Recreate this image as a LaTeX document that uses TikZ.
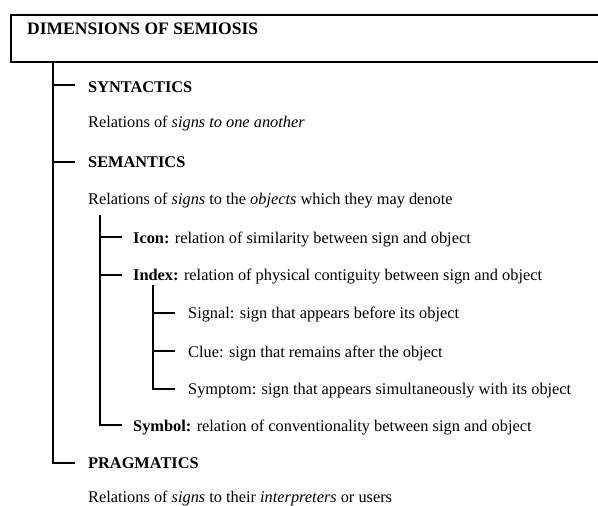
\documentclass[tikz,border=0pt]{standalone}
\usepackage{fontspec}
\setmainfont{Liberation Serif}
\begin{document}
\begin{tikzpicture}[x=1bp,y=-1bp,
  treeline/.style={line width=1.5bp},
  boxline/.style={line width=1.7bp},
  txt/.style={anchor=base west,inner sep=0pt,font=\fontsize{16.4}{19}\selectfont},
  head/.style={txt,font=\fontsize{16.4}{19}\selectfont\bfseries},
  titletxt/.style={anchor=base west,inner sep=0pt,font=\fontsize{17.6}{20}\selectfont\bfseries}]
\useasboundingbox (0,0) rectangle (598,506);
% title box
\node[titletxt] (title) at (27,35) {DIMENSIONS OF SEMIOSIS};
\draw[boxline] (598,15) -| (11,62) -- (598,62);
% level 1
\node[head] (synt) at (88,93) {SYNTACTICS};
\node[txt] (syntd) at (88,128) {Relations of \textit{signs to one another}};
\node[head] (sem) at (88,168) {SEMANTICS};
\node[txt] (semd) at (88,205) {Relations of \textit{signs} to the \textit{objects} which they may denote};
\node[head] (prag) at (88,468) {PRAGMATICS};
\node[txt] (pragd) at (88,502) {Relations of \textit{signs} to their \textit{interpreters} or users};
% level 2
\node[txt] (icon) at (133,243) {\textbf{Icon:} relation of similarity between sign and object};
\node[txt] (index) at (133,280) {\textbf{Index:} relation of physical contiguity between sign and object};
\node[txt] (symbol) at (133,431) {\textbf{Symbol:} relation of conventionality between sign and object};
% level 3
\node[txt] (signal) at (188,318) {Signal: sign that appears before its object};
\node[txt] (clue) at (188,357) {Clue: sign that remains after the object};
\node[txt] (symptom) at (188,394) {Symptom: sign that appears simultaneously with its object};
% connector end points
\coordinate (t1) at (53,62);
\coordinate (e1a) at (75,85);
\coordinate (e1b) at (75,162);
\coordinate (e1c) at (75,463);
\coordinate (t2) at (100,215);
\coordinate (e2a) at (122,237);
\coordinate (e2b) at (122,275);
\coordinate (e2c) at (122,425);
\coordinate (t3) at (153,285);
\coordinate (e3a) at (175,313);
\coordinate (e3b) at (175,351);
\coordinate (e3c) at (175,389);
% tree lines
\draw[treeline] (t1) |- (e1c);
\draw[treeline] (t1 |- e1a) -- (e1a);
\draw[treeline] (t1 |- e1b) -- (e1b);
\draw[treeline] (t2) |- (e2c);
\draw[treeline] (t2 |- e2a) -- (e2a);
\draw[treeline] (t2 |- e2b) -- (e2b);
\draw[treeline] (t3) |- (e3c);
\draw[treeline] (t3 |- e3a) -- (e3a);
\draw[treeline] (t3 |- e3b) -- (e3b);
\end{tikzpicture}
\end{document}
